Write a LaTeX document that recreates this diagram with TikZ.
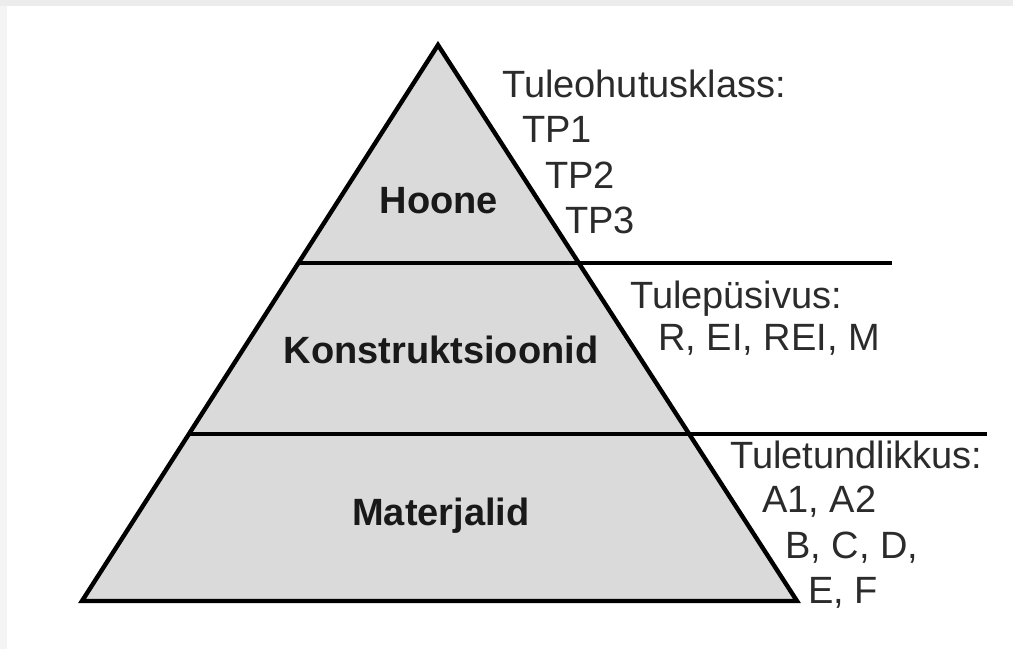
\documentclass[tikz,border=0pt]{standalone}
\usepackage{fontspec}
\setmainfont{Liberation Sans}
\definecolor{pyrfill}{HTML}{DADADA}
\definecolor{txtgray}{HTML}{2B2B2B}
\definecolor{frameg}{HTML}{ECECEC}
\begin{document}
\begin{tikzpicture}[x=1pt,y=-1pt,
  level/.style={font=\fontsize{38}{44}\selectfont\bfseries, text=black!90, anchor=base, inner sep=0pt},
  side/.style={font=\fontsize{38}{44}\selectfont, text=txtgray, anchor=base west, inner sep=0pt},
  edge/.style={line width=4.4pt, line join=miter, black},
  divider/.style={line width=3.8pt, black}]
\useasboundingbox (0,0) rectangle (1013,649);
\fill[white] (0,0) rectangle (1013,649);
\fill[frameg] (0,0) rectangle (1013,6);
\fill[frameg!60] (0,6) rectangle (7,649);
% pyramid
\coordinate (apex) at (438,45);
\coordinate (bl) at (82,601);
\coordinate (br) at (797,601);
\coordinate (l1) at (298,263);
\coordinate (r1) at (892,263);
\coordinate (l2) at (189,434);
\coordinate (r2) at (987,434);
\fill[pyrfill] (apex) -- (bl) -- (br) -- cycle;
\draw[divider] (l1) -- (r1);
\draw[divider] (l2) -- (r2);
\draw[edge] (apex) -- (bl) -- (br) -- cycle;
% level labels
\node[level] (hoone) at (439,213) {Hoone};
\node[level] (konstr) at (441,363) {Konstruktsioonid};
\node[level] (mater) at (441,525) {Materjalid};
% side texts
\node[side] (t1) at (502,97) {Tuleohutusklass:};
\node[side] (tp1) at (522,142) {TP1};
\node[side] (tp2) at (545,188) {TP2};
\node[side] (tp3) at (565,233) {TP3};
\node[side] (t2) at (630,308) {Tulepüsivus:};
\node[side] (rei) at (658,350) {R, EI, REI, M};
\node[side] (t3) at (730,468) {Tuletundlikkus:};
\node[side] (a12) at (762,512) {A1, A2};
\node[side] (bcd) at (785,558) {B, C, D,};
\node[side] (ef) at (808,603) {E, F};
\end{tikzpicture}
\end{document}
